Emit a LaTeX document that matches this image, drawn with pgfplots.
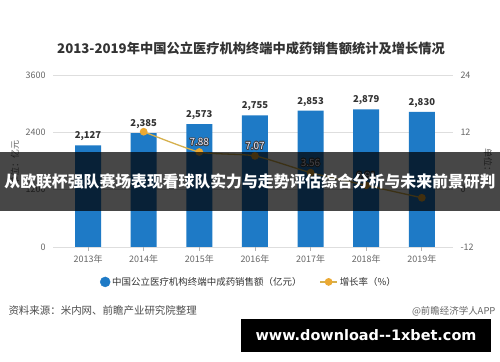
\documentclass[border=0pt]{standalone}
\usepackage{pgfplots}
\pgfplotsset{compat=1.18}
\usepackage{fontspec}
\setmainfont{Noto Sans CJK SC}
\newfontfamily\wwwfont{DejaVu Sans}
\usepackage{contour}
\contourlength{0.7pt}
\definecolor{barblue}{HTML}{1E7AC6}
\definecolor{linegold}{HTML}{D6B04C}
\definecolor{markorange}{HTML}{EBA933}
\definecolor{txtgray}{HTML}{666666}
\definecolor{labdark}{HTML}{333333}
\begin{document}
\begin{tikzpicture}
\useasboundingbox (0,0) rectangle (500bp,362bp);
\fill[white] (0,0) rectangle (500bp,362bp);
% title
\node[font=\bfseries\fontsize{13.3}{15}\selectfont, text=labdark] at (251bp,314bp) {2013-2019年中国公立医疗机构终端中成药销售额统计及增长情况};
\begin{axis}[
  at={(53bp,115bp)}, anchor=south west, scale only axis,
  width=400bp, height=172bp,
  xmin=-0.63, xmax=6.56, ymin=0, ymax=3600,
  ytick={0,1200,2400,3600},
  xtick={0,1,2,3,4,5,6},
  xticklabels={2013年,2014年,2015年,2016年,2017年,2018年,2019年},
  ymajorgrids, grid style={draw=black!13, line width=0.7pt},
  axis line style={draw=none},
  tick align=outside, major tick length=4bp,
  xtick style={draw=black!30, line width=0.7pt},
  ytick style={draw=none},
  xtick pos=bottom,
  tick label style={font=\fontsize{9}{10}\selectfont, text=txtgray},
  /pgf/number format/assume math mode=true,
  /pgf/number format/1000 sep={},
  ybar, bar width=26bp,
  nodes near coords={\pgfmathprintnumber[1000 sep={,},assume math mode=true]{\pgfplotspointmeta}},
  nodes near coords style={font=\bfseries\fontsize{9.5}{11}\selectfont, text=labdark, yshift=1bp},
]
\addplot[fill=barblue, draw=none] coordinates {(0,2127) (1,2385) (2,2573) (3,2755) (4,2853) (5,2879) (6,2830)};
\draw[black!30, line width=0.8pt] (axis cs:-0.63,0) -- (axis cs:6.56,0);
\end{axis}
\begin{axis}[
  at={(53bp,115bp)}, anchor=south west, scale only axis,
  width=400bp, height=172bp,
  xmin=-0.63, xmax=6.56, ymin=-12, ymax=24,
  ytick={-12,0,12,24},
  axis y line*=right, axis x line=none,
  axis line style={draw=none}, major tick length=0pt,
  tick label style={font=\fontsize{9}{10}\selectfont, text=txtgray},
  yticklabel style={xshift=4bp},
  /pgf/number format/assume math mode=true,
  legend columns=2,
  legend style={draw=none, fill=none, at={(0.49,-0.203)}, anchor=center,
    font=\fontsize{9.5}{11}\selectfont, text=labdark,
    /tikz/every even column/.append style={column sep=16bp}},
]
\addlegendimage{only marks, mark=*, mark size=5bp, color=barblue}
\addplot[color=linegold, line width=1.3pt, smooth, tension=0.35,
  mark=*, mark size=3.2bp, mark options={fill=markorange, draw=markorange},
  point meta=explicit symbolic,
  nodes near coords={\contour{black!75}{\textcolor{blue!8}{\pgfplotspointmeta}}},
  nodes near coords style={font=\fontsize{10}{11}\selectfont, anchor=south, yshift=1.5bp}]
  coordinates {(1,12.13)[] (2,7.88)[7.88] (3,7.07)[7.07] (4,3.56)[3.56] (5,0.91)[0.91] (6,-1.70)[]};
\legend{中国公立医疗机构终端中成药销售额（亿元）,增长率（\%）}
\end{axis}
% unit labels
\node[rotate=90, font=\fontsize{9}{10}\selectfont, text=txtgray] at (15bp,199bp) {单位：亿元};
\node[rotate=-90, font=\fontsize{9}{10}\selectfont, text=txtgray] at (488bp,196bp) {单位：\%};
% banner overlay
\fill[black, opacity=0.72] (0,151bp) rectangle (500bp,210bp);
\node[text=white, inner sep=0pt, font=\bfseries\fontsize{15.9}{18}\selectfont] at (250bp,181bp) {从欧联杯强队赛场表现看球队实力与走势评估综合分析与未来前景研判};
% source
\node[anchor=west, font=\fontsize{10.5}{12}\selectfont, text=black!70] at (5bp,51bp) {资料来源：米内网、前瞻产业研究院整理};
\node[anchor=east, font=\fontsize{9.5}{12}\selectfont, text=black!60] at (499bp,51bp) {@前瞻经济学人APP};
% black box
\fill[black] (241bp,10bp) rectangle (491bp,43bp);
\node[text=white, font=\wwwfont\bfseries\fontsize{14.5}{17}\selectfont] at (366bp,27bp) {www.download--1xbet.com};
\end{tikzpicture}
\end{document}
